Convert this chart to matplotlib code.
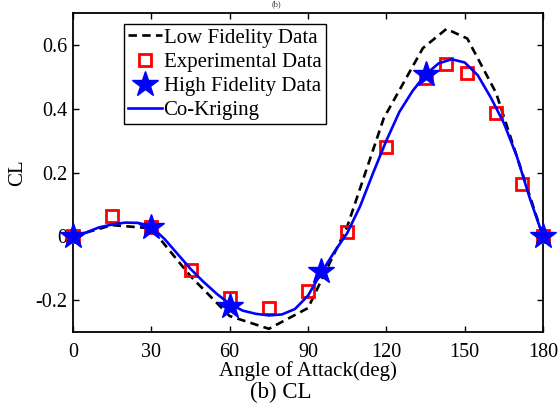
import matplotlib
matplotlib.use("Agg")
import matplotlib.pyplot as plt

# angle of attack (deg) and lift coefficient
low_aoa = [0, 15, 30, 45, 60, 75, 90, 105, 119, 134, 143, 151, 162, 172, 180]
low_cl = [0.0, 0.035, 0.025, -0.125, -0.25, -0.29, -0.225, 0.03, 0.37,
          0.59, 0.65, 0.62, 0.45, 0.2, 0.0]

exp_aoa = [0, 15, 30, 45, 60, 75, 90, 105, 120, 135, 143, 151, 162, 172, 180]
exp_cl = [0.0, 0.065, 0.028, -0.106, -0.193, -0.224, -0.171, 0.012, 0.28,
          0.495, 0.541, 0.513, 0.386, 0.165, 0.0]

hf_aoa = [0, 30, 60, 95, 135, 180]
hf_cl = [0.0, 0.03, -0.218, -0.11, 0.51, 0.0]

ck_aoa = [0, 5, 10, 15, 20, 25, 30, 35, 40, 45, 50, 55, 60, 65, 70, 75, 80,
          85, 90, 95, 100, 105, 110, 115, 120, 125, 130, 135, 140, 145, 150,
          155, 160, 165, 170, 175, 180]
ck_cl = [0.0, 0.012, 0.028, 0.037, 0.043, 0.042, 0.03, -0.008, -0.055,
         -0.102, -0.143, -0.18, -0.212, -0.233, -0.243, -0.248, -0.245,
         -0.228, -0.186, -0.115, -0.05, 0.01, 0.095, 0.2, 0.3, 0.39, 0.455,
         0.507, 0.542, 0.555, 0.545, 0.505, 0.435, 0.355, 0.25, 0.118, 0.0]

xticks = [0, 30, 60, 90, 120, 150, 180]
yticks = [-0.2, 0, 0.2, 0.4, 0.6]
ytick_labels = ["-0.2", "0", "0.2", "0.4", "0.6"]

plt.rcParams["font.family"] = ["Liberation Serif", "DejaVu Serif"]

fig = plt.figure(figsize=(5.59, 4.03), dpi=100)
ax = fig.add_axes([0.1306, 0.1762, 0.8408, 0.7915])

ax.plot(low_aoa, low_cl, "--", color="black", lw=1.9, dashes=(3.2, 2.0),
        label="Low Fidelity Data", zorder=2)
ax.plot(exp_aoa, exp_cl, "s", mfc="none", mec="red", mew=2.0, ms=8.5,
        label="Experimental Data", zorder=3, clip_on=False)
ck_line, = ax.plot(ck_aoa, ck_cl, "-", color="blue", lw=1.9, zorder=4)
ax.plot(hf_aoa, hf_cl, "*", color="blue", ms=19, mec="blue",
        label="High Fidelity Data", zorder=5, clip_on=False)
ck_line.set_label("Co-Kriging")

ax.set_xlim(0, 180)
ax.set_ylim(-0.3, 0.7)
ax.set_xticks(xticks)
ax.set_yticks(yticks)
ax.set_yticklabels(ytick_labels)
ax.tick_params(direction="in", top=True, right=True, labelsize=14.5,
               length=4, width=1.0)
ax.tick_params(axis="x", pad=8)
ax.tick_params(axis="y", pad=4)
for s in ax.spines.values():
    s.set_linewidth(1.3)

ax.set_xlabel("Angle of Attack(deg)", fontsize=15, labelpad=-1)
ax.set_ylabel("CL", fontsize=15, labelpad=6)

handles, labels = ax.get_legend_handles_labels()
order = ["Low Fidelity Data", "Experimental Data", "High Fidelity Data", "Co-Kriging"]
hmap = dict(zip(labels, handles))
leg = ax.legend([hmap[k] for k in order], order, loc="upper left",
                bbox_to_anchor=(0.1085, 0.9655), borderaxespad=0,
                fontsize=15, fancybox=False, framealpha=1, edgecolor="black",
                handlelength=1.6, handletextpad=0.1, labelspacing=0.22,
                borderpad=0.2, numpoints=1)
leg.get_frame().set_linewidth(1.0)

fig.text(0.503, 0.025, "(b) CL", fontsize=16.5, ha="center", va="center")
fig.text(0.494, 1.0, "(b)", fontsize=6, ha="center", va="top", color="#333333")

fig.savefig("out.png", dpi=100)
